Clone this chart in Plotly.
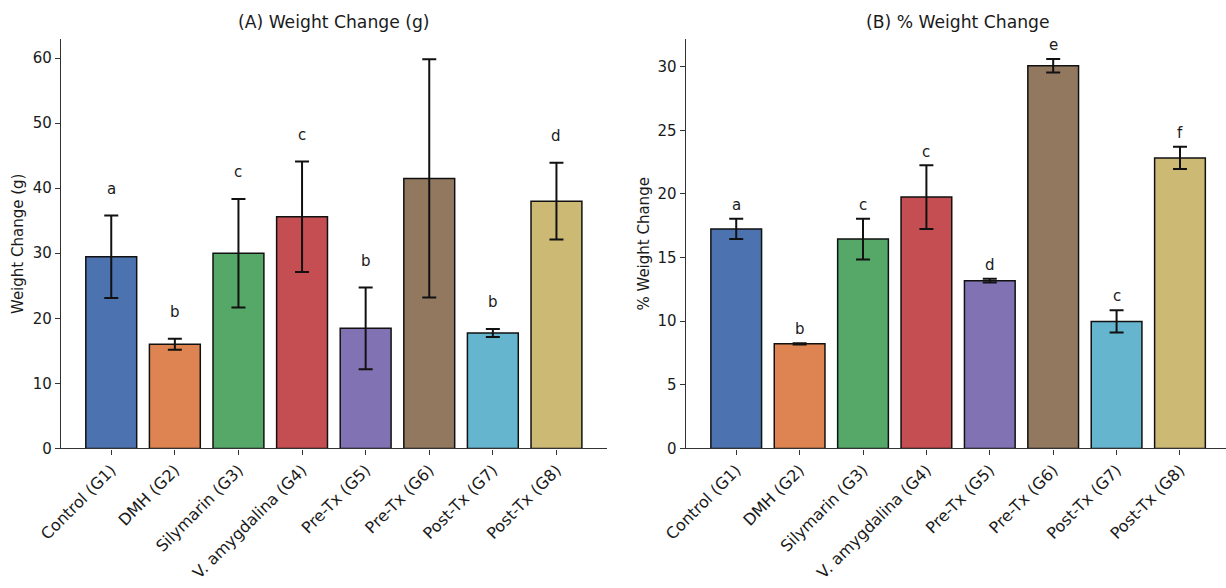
import plotly.graph_objects as go

# ---- data ----
groups = ["Control (G1)", "DMH (G2)", "Silymarin (G3)", "V. amygdalina (G4)",
          "Pre-Tx (G5)", "Pre-Tx (G6)", "Post-Tx (G7)", "Post-Tx (G8)"]
weight_change = [29.45, 16.0, 30.0, 35.6, 18.45, 41.5, 17.75, 38.0]
weight_change_sd = [6.35, 0.85, 8.35, 8.5, 6.3, 18.3, 0.62, 5.9]
weight_letters = ["a", "b", "c", "c", "b", "e", "b", "d"]

pct_change = [17.25, 8.22, 16.45, 19.75, 13.18, 30.07, 9.98, 22.83]
pct_change_sd = [0.79, 0.05, 1.6, 2.5, 0.15, 0.53, 0.88, 0.88]
pct_letters = ["a", "b", "c", "c", "d", "e", "c", "f"]

colors = ["#4C72B0", "#DD8452", "#55A868", "#C44E52",
          "#8172B3", "#937860", "#64B5CD", "#CCB974"]

FONT = "DejaVu Sans"
TXT = "#1a1a1a"
W, H = 1226, 588

fig = go.Figure()

def add_panel(vals, sds, xa, ya):
    fig.add_trace(go.Bar(
        x=groups, y=vals, xaxis=xa, yaxis=ya,
        marker=dict(color=colors, line=dict(color="#111111", width=1.5)),
        error_y=dict(type="data", array=sds, visible=True,
                     color="#111111", thickness=2, width=7),
        showlegend=False, hoverinfo="x+y",
    ))

add_panel(weight_change, weight_change_sd, "x", "y")
add_panel(pct_change, pct_change_sd, "x2", "y2")

annotations = []
# significance letters
for vals, sds, letters, xr, yr, off in [
    (weight_change, weight_change_sd, weight_letters, "x", "y", 4.1),
    (pct_change, pct_change_sd, pct_letters, "x2", "y2", 1.08),
]:
    for g, v, s, l in zip(groups, vals, sds, letters):
        annotations.append(dict(
            x=g, y=v + s + off, xref=xr, yref=yr, text=l, showarrow=False,
            yanchor="middle", xanchor="center",
            font=dict(family=FONT, size=15, color=TXT)))

# panel titles
annotations.append(dict(x=333.9 / W, y=1 - 22 / H, xref="paper", yref="paper",
                        text="(A) Weight Change (g)", showarrow=False,
                        xanchor="center", yanchor="middle",
                        font=dict(family=FONT, size=17.2, color=TXT)))
annotations.append(dict(x=958 / W, y=1 - 22 / H, xref="paper", yref="paper",
                        text="(B) % Weight Change", showarrow=False,
                        xanchor="center", yanchor="middle",
                        font=dict(family=FONT, size=17.2, color=TXT)))

ydom = [1 - 448.4 / H, 1 - 39.3 / H]
axis_common = dict(showline=True, linecolor="#333333", linewidth=1.25,
                   ticks="outside", ticklen=5, tickwidth=1.25, tickcolor="#333333",
                   showgrid=False, zeroline=False, automargin=False)
yfont = dict(family=FONT, size=15, color=TXT)
xfont = dict(family=FONT, size=16, color=TXT)

fig.update_layout(
    width=W, height=H,
    margin=dict(l=0, r=0, t=0, b=0),
    paper_bgcolor="white", plot_bgcolor="white",
    bargap=0.2,
    annotations=annotations,
    xaxis=dict(domain=[61 / W, 606.7 / W], range=[-0.79, 7.79], anchor="y",
               tickangle=-45, type="category", tickfont=xfont, **axis_common),
    xaxis2=dict(domain=[685.7 / W, 1.0], range=[-0.797, 7.726], anchor="y2",
                tickangle=-45, type="category", tickfont=xfont, **axis_common),
    yaxis=dict(domain=ydom, range=[0, 62.88], anchor="x",
               tickvals=[0, 10, 20, 30, 40, 50, 60], tickfont=yfont,
               title=dict(text="Weight Change (g)", standoff=5, font=yfont),
               **axis_common),
    yaxis2=dict(domain=ydom, range=[0, 32.15], anchor="x2",
                tickvals=[0, 5, 10, 15, 20, 25, 30], tickfont=yfont,
                title=dict(text="% Weight Change", standoff=4, font=yfont),
                **axis_common),
)

fig.write_html("out.html", config={"displayModeBar": False},
               post_script="document.body.style.margin='0';document.body.style.overflow='hidden';")
